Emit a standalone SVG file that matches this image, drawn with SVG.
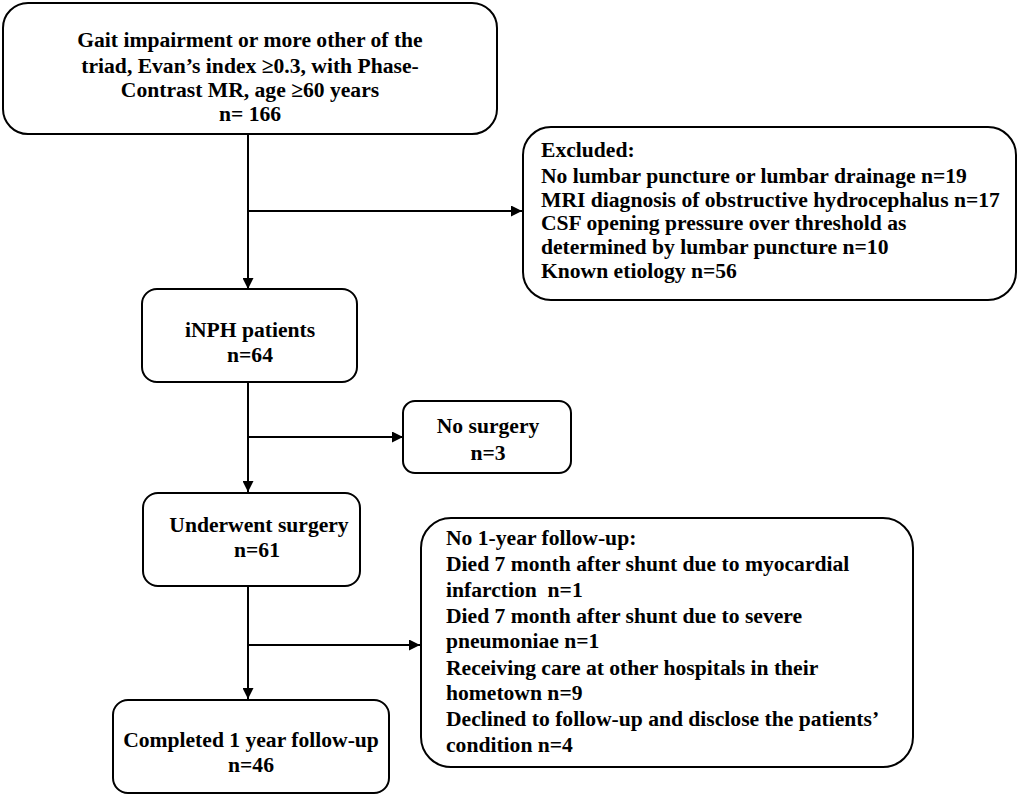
<svg xmlns="http://www.w3.org/2000/svg" width="1021" height="796" viewBox="0 0 1021 796">
<style>
.box{fill:#fff;stroke:#000;stroke-width:2}
text{font-family:"Liberation Serif","Times New Roman",serif;font-weight:bold;fill:#000;font-size:21.6px;white-space:pre}
.c{text-anchor:middle}
.ln{stroke:#000;stroke-width:2;fill:none}
</style>
<defs>
<marker id="ah" viewBox="0 0 10 10" refX="10" refY="5" markerWidth="6" markerHeight="5.5" orient="auto" markerUnits="strokeWidth">
<path d="M0,0 L10,5 L0,10 z" fill="#000"/>
</marker>
</defs>
<rect width="1021" height="796" fill="#fff"/>
<g id="connectors">
<line class="ln" x1="248" y1="134" x2="248" y2="289" marker-end="url(#ah)"/>
<line class="ln" x1="248" y1="211" x2="522" y2="211" marker-end="url(#ah)"/>
<line class="ln" x1="248" y1="382" x2="248" y2="492" marker-end="url(#ah)"/>
<line class="ln" x1="248" y1="437" x2="403" y2="437" marker-end="url(#ah)"/>
<line class="ln" x1="248" y1="586" x2="248" y2="699" marker-end="url(#ah)"/>
<line class="ln" x1="248" y1="645" x2="420" y2="645" marker-end="url(#ah)"/>
</g>
<g id="start">
<rect class="box" x="3" y="3" width="494" height="131" rx="25"/>
<text class="c" x="250" y="47">Gait impairment or more other of the</text>
<text class="c" x="250" y="73">triad, Evan’s index ≥0.3, with Phase-</text>
<text class="c" x="250" y="97">Contrast MR, age ≥60 years</text>
<text class="c" x="250" y="121">n= 166</text>
</g>
<g id="excluded">
<rect class="box" x="523" y="127" width="493" height="173" rx="28"/>
<text x="541" y="157">Excluded:</text>
<text x="541" y="183">No lumbar puncture or lumbar drainage n=19</text>
<text x="541" y="207">MRI diagnosis of obstructive hydrocephalus n=17</text>
<text x="541" y="230">CSF opening pressure over threshold as</text>
<text x="541" y="254">determined by lumbar puncture n=10</text>
<text x="541" y="278">Known etiology n=56</text>
</g>
<g id="inph">
<rect class="box" x="142" y="289" width="215" height="93" rx="15"/>
<text class="c" x="250" y="337">iNPH patients</text>
<text class="c" x="250" y="362">n=64</text>
</g>
<g id="nosurgery">
<rect class="box" x="403" y="401" width="168" height="72" rx="12"/>
<text class="c" x="488" y="433">No surgery</text>
<text class="c" x="488" y="460">n=3</text>
</g>
<g id="surgery">
<rect class="box" x="143" y="493" width="217" height="93" rx="15"/>
<text class="c" x="259" y="532">Underwent surgery</text>
<text class="c" x="257" y="557">n=61</text>
</g>
<g id="nofollowup">
<rect class="box" x="421" y="518" width="492" height="249" rx="30"/>
<text x="446" y="545">No 1-year follow-up:</text>
<text x="446" y="571">Died 7 month after shunt due to myocardial</text>
<text x="446" y="597">infarction  n=1</text>
<text x="446" y="623">Died 7 month after shunt due to severe</text>
<text x="446" y="648">pneumoniae n=1</text>
<text x="446" y="675">Receiving care at other hospitals in their</text>
<text x="446" y="700">hometown n=9</text>
<text x="446" y="726">Declined to follow-up and disclose the patients’</text>
<text x="446" y="752">condition n=4</text>
</g>
<g id="completed">
<rect class="box" x="113" y="700" width="276" height="93" rx="15"/>
<text class="c" x="251" y="747">Completed 1 year follow-up</text>
<text class="c" x="251" y="772">n=46</text>
</g>
</svg>
